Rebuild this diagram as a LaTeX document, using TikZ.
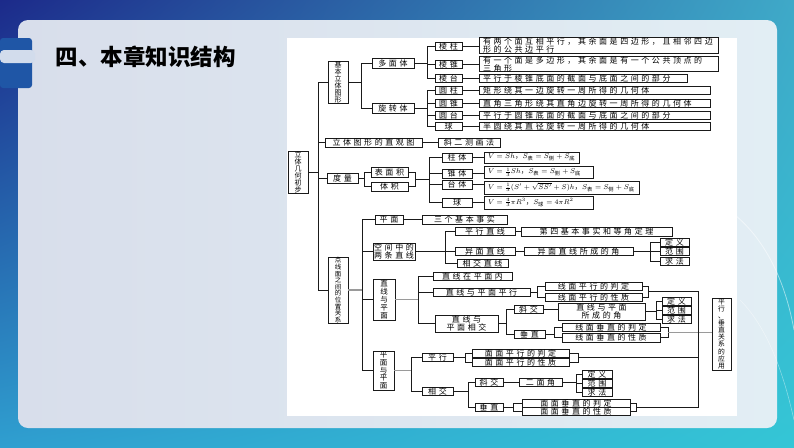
\documentclass[tikz,border=0pt]{standalone}
\usepackage{amsmath}
\usepackage{fontspec}
\setmainfont{Noto Sans CJK SC}
\newfontfamily\chartfont{Noto Sans CJK SC}[LetterSpace=32]
\usetikzlibrary{calc,shadings}
\definecolor{ink}{HTML}{1A1A1A}
\definecolor{inkgray}{HTML}{9A9A9A}
\definecolor{navy}{HTML}{1C2A8A}
\definecolor{sea}{HTML}{3FA9C8}
\definecolor{bluelow}{HTML}{2F9FD0}
\definecolor{cyanlow}{HTML}{34C6D6}
\definecolor{panelL}{HTML}{D8DEEB}
\definecolor{panelR}{HTML}{E2EEF4}
\definecolor{tabblue}{HTML}{1F56A6}
\definecolor{tablight}{HTML}{D2DCEC}
\tikzset{
  tag/.style={draw=ink,fill=white,line width=0.7pt,inner sep=0pt,align=center,
              font=\chartfont\fontsize{8}{8}\selectfont},
  desc/.style={tag,align=left,inner xsep=4pt},
  fml/.style={desc,font=\fontsize{7.5}{8}\selectfont},
  vtag/.style={draw=ink,fill=white,line width=0.7pt,inner sep=0pt,align=center,
               font=\fontsize{7}{7}\selectfont},
  link/.style={draw=ink,line width=0.7pt},
  glink/.style={draw=inkgray,line width=1.1pt}
}

\begin{document}
\begin{tikzpicture}[x=1pt,y=-1pt]
  \path[use as bounding box] (0,0) rectangle (794,447);
  % slide ground
  \shade[upper left=navy,upper right=sea,lower left=bluelow,lower right=cyanlow]
    (0,0) rectangle (794,447);
  \shade[rounded corners=10pt,left color=panelL,right color=panelR]
    (18,20) rectangle (777,428);
  \draw[white,opacity=0.5,line width=0.8pt] (735,215) .. controls (765,240) and (785,280) .. (794,330);
  \draw[white,opacity=0.4,line width=0.6pt] (740,300) .. controls (770,330) and (785,380) .. (794,420);
  \fill[tabblue,rounded corners=3pt] (0,38) rectangle (32,88);
  \fill[tablight,rounded corners=4pt] (0,50) rectangle (35,63);
  \node[font=\fontsize{22.5}{22.5}\selectfont\bfseries,anchor=west] (title) at (52,57) {四、本章知识结构};
  \fill[white] (287,38) rectangle (737,416);

  % level 0 and 1
  \node[vtag,minimum width=20,minimum height=42] (root) at (298,172) {立\\体\\几\\何\\初\\步};
  \node[vtag,minimum width=20,minimum height=42] (jbtx) at (338,82) {基\\本\\立\\体\\图\\形};
  \node[tag,minimum width=97,minimum height=9] (zgt) at (373.5,142.5) {立体图形的直观图};
  \node[tag,minimum width=31,minimum height=10] (dl) at (342.5,178) {度量};
  \node[vtag,minimum width=20,minimum height=66,font=\fontsize{6.5}{6.6}\selectfont] (dxm) at (338,290)
    {点\\线\\面\\之\\间\\的\\位\\置\\关\\系};

  % solids
  \node[tag,minimum width=42,minimum height=10] (dmt) at (393,63) {多面体};
  \node[tag,minimum width=42,minimum height=10] (xzt) at (393,108.5) {旋转体};
  \foreach \nm/\yy/\tx in {lz/46/棱柱,lzh/64/棱锥,lt/78/棱台,yz/90/圆柱,yzh/103/圆锥,yt/115/圆台,qiu/126/球}
    \node[tag,minimum width=27,minimum height=8] (\nm) at (448.5,\yy) {\tx};
  \node[desc,text width=231,minimum height=16] (dlz) at (598.5,45)
    {有两个面互相平行，其余面是四边形，且相邻四边\\形的公共边平行};
  \node[desc,text width=231,minimum height=14] (dlzh) at (598.5,64)
    {有一个面是多边形，其余面是有一个公共顶点的\\三角形};
  \node[desc,text width=200,minimum height=8] (dlt) at (583,78.5) {平行于棱锥底面的截面与底面之间的部分};
  \node[desc,text width=223,minimum height=8] (dyz) at (594.5,90) {矩形绕其一边旋转一周所得的几何体};
  \node[desc,text width=223,minimum height=8] (dyzh) at (594.5,103) {直角三角形绕其直角边旋转一周所得的几何体};
  \node[desc,text width=223,minimum height=8] (dyt) at (594.5,115) {平行于圆锥底面的截面与底面之间的部分};
  \node[desc,text width=223,minimum height=8] (dqiu) at (594.5,126) {半圆绕其直径旋转一周所得的几何体};
  \node[tag,minimum width=62,minimum height=9] (xec) at (469,142.5) {斜二测画法};

  % measures
  \node[tag,minimum width=37,minimum height=10] (bmj) at (389.5,172) {表面积};
  \node[tag,minimum width=37,minimum height=9] (tj) at (389.5,186.5) {体积};
  \foreach \nm/\yy/\tx in {zt/157.5/柱体,zht/173.5/锥体,tt/184.5/台体,qt/202.5/球}
    \node[tag,minimum width=30,minimum height=9] (\nm) at (457,\yy) {\tx};
  \node[fml,text width=87,minimum height=11] (f1) at (531.5,157.5)
    {$V=Sh$，$S_{\text{表}}=S_{\text{侧}}+S_{\text{底}}$};
  \node[fml,text width=101,minimum height=12] (f2) at (538.5,172)
    {$V=\frac{1}{3}Sh$，$S_{\text{表}}=S_{\text{侧}}+S_{\text{底}}$};
  \node[fml,text width=147,minimum height=13] (f3) at (561.5,187.5)
    {$V=\frac{1}{3}(S'+\sqrt{SS'}+S)h$，$S_{\text{表}}=S_{\text{侧}}+S_{\text{底}}$};
  \node[fml,text width=101,minimum height=13] (f4) at (538.5,202.5)
    {$V=\frac{4}{3}\pi R^3$，$S_{\text{球}}=4\pi R^2$};

  % points, lines, planes
  \node[tag,minimum width=28,minimum height=9] (pm) at (389,219.5) {平面};
  \node[tag,minimum width=85,minimum height=9] (sgj) at (464.5,219.5) {三个基本事实};
  \node[tag,minimum width=42,minimum height=17] (ltzx) at (394,251.5) {空间中的\\两条直线};
  \node[tag,minimum width=60,minimum height=8] (pxzx) at (485,231.5) {平行直线};
  \node[tag,minimum width=151,minimum height=9] (d4) at (596.5,231.5) {第四基本事实和等角定理};
  \node[tag,minimum width=60,minimum height=8] (ymzx) at (485,251.5) {异面直线};
  \node[tag,minimum width=109,minimum height=8] (ymj) at (578.5,251.5) {异面直线所成的角};
  \node[tag,minimum width=51,minimum height=8] (xjzx) at (482.5,263.5) {相交直线};
  \foreach \nm/\yy/\tx in {def1/242/定义,rng1/251/范围,qf1/261/求法}
    \node[tag,minimum width=29,minimum height=8] (\nm) at (674.5,\yy) {\tx};

  \node[vtag,minimum width=22,minimum height=41,font=\fontsize{7.5}{8}\selectfont] (zxpm) at (384,299.5) {直\\线\\与\\平\\面};
  \node[tag,minimum width=79,minimum height=8] (zxnei) at (472.5,276) {直线在平面内};
  \node[tag,minimum width=97,minimum height=8] (zxpx) at (481.5,292) {直线与平面平行};
  \node[tag,minimum width=97,minimum height=8] (xmpd) at (593.5,286) {线面平行的判定};
  \node[tag,minimum width=97,minimum height=8] (xmpx) at (593.5,297) {线面平行的性质};
  \node[tag,minimum width=63,minimum height=17] (zxxj) at (466.5,323.5) {直线与\\平面相交};
  \node[tag,minimum width=29,minimum height=8] (xj1) at (528.5,309.5) {斜交};
  \node[tag,minimum width=87,minimum height=17] (zxj) at (601.5,311.5) {直线与平面\\所成的角};
  \foreach \nm/\yy/\tx in {def2/301.5/定义,rng2/310.5/范围,qf2/319.5/求法}
    \node[tag,minimum width=29,minimum height=8] (\nm) at (676.5,\yy) {\tx};
  \node[tag,minimum width=31,minimum height=8] (cz1) at (529.5,334.5) {垂直};
  \node[tag,minimum width=98,minimum height=8] (xczd) at (611,327) {线面垂直的判定};
  \node[tag,minimum width=98,minimum height=9] (xczx) at (611,337.5) {线面垂直的性质};

  \node[vtag,minimum width=21,minimum height=39,font=\fontsize{7.5}{7.8}\selectfont] (mypm) at (383.5,370.5) {平\\面\\与\\平\\面};
  \node[tag,minimum width=31,minimum height=8] (px2) at (437.5,357) {平行};
  \node[tag,minimum width=97,minimum height=8] (mpd) at (520.5,353) {面面平行的判定};
  \node[tag,minimum width=97,minimum height=8] (mpx) at (520.5,362.5) {面面平行的性质};
  \node[tag,minimum width=31,minimum height=8] (xj2) at (437.5,391.5) {相交};
  \node[tag,minimum width=28,minimum height=8] (xjj2) at (489,382) {斜交};
  \node[tag,minimum width=28,minimum height=8] (cz2) at (489,407.5) {垂直};
  \node[tag,minimum width=43,minimum height=8] (emj) at (540.5,382.5) {二面角};
  \foreach \nm/\yy/\tx in {def3/374/定义,rng3/383.5/范围,qf3/392.5/求法}
    \node[tag,minimum width=30,minimum height=8] (\nm) at (597,\yy) {\tx};
  \node[tag,minimum width=108,minimum height=8] (mczd) at (576,403) {面面垂直的判定};
  \node[tag,minimum width=108,minimum height=8] (mczx) at (576,411.5) {面面垂直的性质};

  \node[vtag,minimum width=19,minimum height=72,font=\fontsize{6.8}{7.1}\selectfont] (yy) at (721.5,334)
    {平\\行\\、\\垂\\直\\关\\系\\的\\应\\用};

  % connectors
  \draw[link] (root.east) -- ++(10,0) coordinate (r0);
  \foreach \ch in {jbtx,zgt,dl,dxm} \draw[link] (r0) |- (\ch.west);
  \draw[link] (jbtx.east) -- ++(13,0) coordinate (r1);
  \foreach \ch in {dmt,xzt} \draw[link] (r1) |- (\ch.west);
  \draw[link] (dmt.east) -- ++(13,0) coordinate (r2);
  \foreach \ch in {lz,lzh,lt} \draw[link] (r2) |- (\ch.west);
  \draw[link] (xzt.east) -- ++(13,0) coordinate (r3);
  \foreach \ch in {yz,yzh,yt,qiu} \draw[link] (r3) |- (\ch.west);
  \foreach \a/\b in {lz/dlz,lzh/dlzh,lt/dlt,yz/dyz,yzh/dyzh,yt/dyt,qiu/dqiu,zgt/xec,
                     zt/f1,zht/f2,tt/f3,qt/f4,pm/sgj,pxzx/d4,ymzx/ymj,xj1/zxj,xjj2/emj}
    \draw[link] (\a.east) -- (\a.east -| \b.west);

  \draw[link] (dl.east) -- ++(6,0) coordinate (r4);
  \foreach \ch in {bmj,tj} \draw[link] (r4) |- (\ch.west);
  \draw[link] (bmj.east) -- ++(7,0) coordinate (b1) |- (tj.east);
  \draw[link] ($(b1)!0.5!(b1 |- tj.east)$) -- ++(14,0) coordinate (r5);
  \foreach \ch in {zt,zht,tt,qt} \draw[link] (r5) |- (\ch.west);

  \draw[glink] (dxm.east) -- ++(14,0) coordinate (r6);
  \foreach \ch in {pm,ltzx,zxpm,mypm} \draw[link] (r6) |- (\ch.west);
  \draw[link] (ltzx.east) -- ++(30,0) coordinate (r7);
  \foreach \ch in {pxzx,ymzx,xjzx} \draw[link] (r7) |- (\ch.west);
  \draw[link] (ymj.east) -- ++(17,0) coordinate (r8);
  \foreach \ch in {def1,rng1,qf1} \draw[link] (r8) |- (\ch.west);

  \draw[glink] (zxpm.east) -- ++(23,0) coordinate (r9);
  \foreach \ch in {zxnei,zxpx,zxxj} \draw[link] (r9) |- (\ch.west);
  \draw[link] (zxpx.east) -- ++(7,0) coordinate (r10);
  \foreach \ch in {xmpd,xmpx} \draw[link] (r10) |- (\ch.west);
  \draw[link] (xmpd.east) -- ++(6,0) coordinate (b2) |- (xmpx.east);
  \coordinate (m1) at ($(b2)!0.5!(b2 |- xmpx.east)$);
  \draw[link] (zxxj.east) -- ++(8,0) coordinate (r11);
  \foreach \ch in {xj1,cz1} \draw[link] (r11) |- (\ch.west);
  \draw[link] (zxj.east) -- ++(11,0) coordinate (r12);
  \foreach \ch in {def2,rng2,qf2} \draw[link] (r12) |- (\ch.west);
  \draw[link] (cz1.east) -- ++(9,0) coordinate (r13);
  \foreach \ch in {xczd,xczx} \draw[link] (r13) |- (\ch.west);
  \draw[link] (xczd.east) -- ++(8,0) coordinate (b3) |- (xczx.east);
  \coordinate (m3) at ($(b3)!0.5!(b3 |- xczx.east)$);
  \draw[glink] (m3) -- (m3 -| yy.west);

  \draw[glink] (mypm.east) -- ++(17,0) coordinate (r14);
  \foreach \ch in {px2,xj2} \draw[link] (r14) |- (\ch.west);
  \draw[link] (px2.east) -- ++(12,0) coordinate (r15);
  \foreach \ch in {mpd,mpx} \draw[link] (r15) |- (\ch.west);
  \draw[link] (mpd.east) -- ++(9,0) coordinate (b4) |- (mpx.east);
  \coordinate (m2) at ($(b4)!0.5!(b4 |- mpx.east)$);
  \draw[link] (xj2.east) -- ++(15,0) coordinate (r16);
  \foreach \ch in {xjj2,cz2} \draw[link] (r16) |- (\ch.west);
  \draw[link] (emj.east) -- ++(14,0) coordinate (r17);
  \foreach \ch in {def3,rng3,qf3} \draw[link] (r17) |- (\ch.west);
  \draw[link] (cz2.east) -- ++(10,0) coordinate (r18);
  \foreach \ch in {mczd,mczx} \draw[link] (r18) |- (\ch.west);
  \draw[link] (mczd.east) -- ++(6,0) coordinate (b5) |- (mczx.east);
  \coordinate (m4) at ($(b5)!0.5!(b5 |- mczx.east)$);

  \coordinate (rv) at (698,0);
  \draw[link] (m1) -- (m1 -| rv) -- (m4 -| rv) -- (m4);
  \draw[link] (m2) -- (m2 -| rv);
\end{tikzpicture}
\end{document}
